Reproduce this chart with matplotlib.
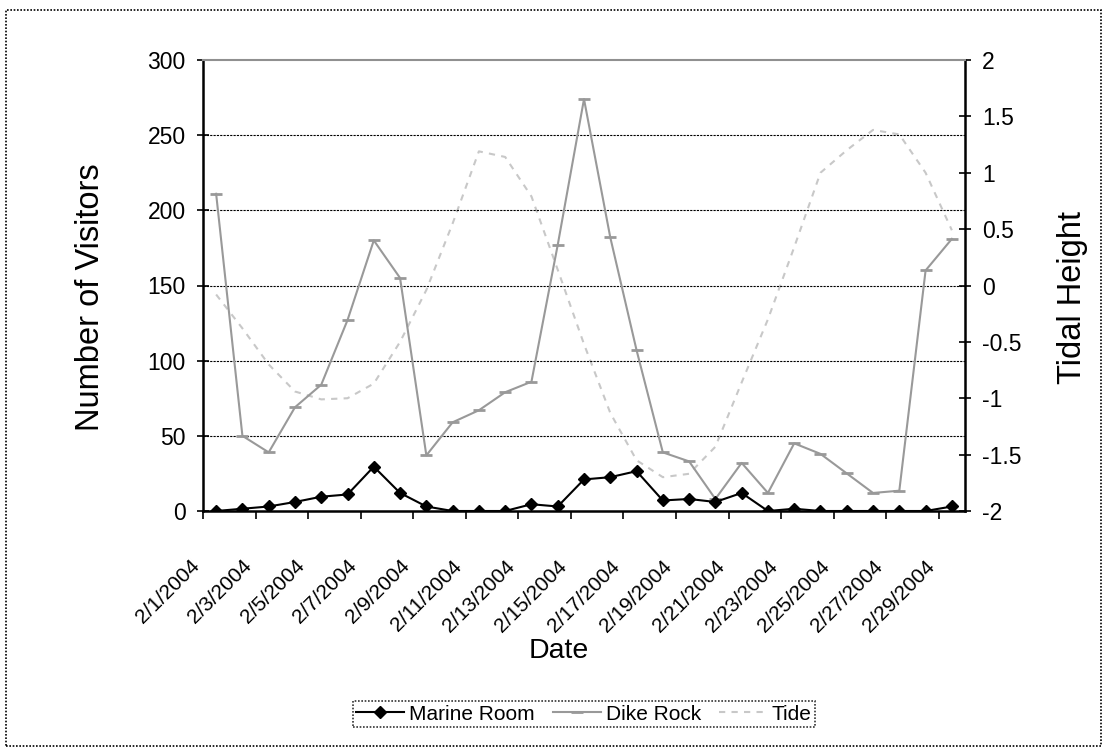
import matplotlib
matplotlib.use('Agg')
import matplotlib.pyplot as plt
import matplotlib.transforms as mtransforms
from matplotlib.patches import Rectangle
from matplotlib.lines import Line2D

dates = ["2/1/2004", "2/2/2004", "2/3/2004", "2/4/2004", "2/5/2004", "2/6/2004",
         "2/7/2004", "2/8/2004", "2/9/2004", "2/10/2004", "2/11/2004", "2/12/2004",
         "2/13/2004", "2/14/2004", "2/15/2004", "2/16/2004", "2/17/2004", "2/18/2004",
         "2/19/2004", "2/20/2004", "2/21/2004", "2/22/2004", "2/23/2004", "2/24/2004",
         "2/25/2004", "2/26/2004", "2/27/2004", "2/28/2004", "2/29/2004"]
marine_room = [0, 1.5, 3, 6, 9.5, 11, 29.5, 12, 3, 0, 0, 0, 4.5, 3, 21, 22.5, 26.5,
               7, 8, 6, 12, 0, 1.5, 0, 0, 0, 0, 0, 3]
dike_rock = [211, 50, 39, 69, 84, 127, 180, 155, 37, 59, 67, 79, 86, 177, 274, 182,
             107, 39, 33, 8, 32, 12, 45, 38, 25, 12, 13.5, 160, 181]
tide = [-0.08, -0.38, -0.7, -0.94, -1.01, -1.0, -0.87, -0.5, -0.04, 0.55, 1.19, 1.14,
        0.79, 0.14, -0.52, -1.13, -1.55, -1.70, -1.67, -1.43, -0.86, -0.3, 0.34, 1.0,
        1.2, 1.38, 1.34, 1.0, 0.49]
left_ticks = [0, 50, 100, 150, 200, 250, 300]
right_ticks = [-2, -1.5, -1, -0.5, 0, 0.5, 1, 1.5, 2]
right_labels = ["-2", "-1.5", "-1", "-0.5", "0", "0.5", "1", "1.5", "2"]

plt.rcParams['font.family'] = ['Liberation Sans', 'DejaVu Sans']

W, H = 1107, 753
fig = plt.figure(figsize=(W / 100, H / 100), dpi=100)
ax = fig.add_axes([203 / W, 1 - 511 / H, (965 - 203) / W, (511 - 60) / H])
ax2 = ax.twinx()

x = list(range(len(dates)))
dike_col = '#999999'
tide_col = '#c8c8c8'

ax2.plot(x, tide, color=tide_col, lw=1.5, ls=(0, (3, 3)), zorder=2)
ax.plot(x, dike_rock, color=dike_col, lw=1.5, marker='_', ms=9, mew=2, zorder=3)
ax.plot(x, marine_room, color='black', lw=1.5, marker='D', ms=6.5, zorder=4)

ax.set_zorder(ax2.get_zorder() + 1)
ax.patch.set_visible(False)

ax.set_xlim(-0.5, len(dates) - 0.5)
ax.set_ylim(0, 300)
ax2.set_ylim(-2, 2)

for v in left_ticks[1:-1]:
    ax.axhline(v, color='black', lw=0.8, ls=(0, (2, 1)), zorder=1)

for s in ['left', 'bottom']:
    ax.spines[s].set_linewidth(1.8)
ax.spines['right'].set_visible(False)
ax.spines['top'].set_color('#909090')
ax.spines['top'].set_linewidth(1.5)
for s in ['left', 'top', 'bottom']:
    ax2.spines[s].set_visible(False)
ax2.spines['right'].set_linewidth(1.8)

ax.set_yticks(left_ticks)
ax.set_yticklabels([str(v) for v in left_ticks])
ax.tick_params(axis='y', direction='inout', length=9, width=1.2, labelsize=16.5, pad=8)
ax2.set_yticks(right_ticks)
ax2.set_yticklabels(right_labels)
ax2.tick_params(axis='y', direction='inout', length=9, width=1.2, labelsize=16.5, pad=8)

ax.set_xticks([i - 0.5 for i in range(0, len(dates), 2)])
ax.set_xticklabels([])
ax.tick_params(axis='x', direction='out', length=6, width=1.2)

offset = mtransforms.ScaledTranslation(-16 / 100, -56 / 100, fig.dpi_scale_trans)
trans = mtransforms.blended_transform_factory(ax.transData, ax.transAxes) + offset
for i in range(0, len(dates), 2):
    ax.text(i, 0, dates[i], transform=trans, rotation=45, rotation_mode='anchor',
            ha='right', va='baseline', fontsize=15, clip_on=False)

fig.text(91 / W, 1 - 297 / H, "Number of Visitors", rotation=90, ha='center',
         va='center', fontsize=23.5)
fig.text(1073 / W, 1 - 297 / H, "Tidal Height", rotation=90, ha='center',
         va='center', fontsize=23.5)
fig.text(559 / W, 1 - 651 / H, "Date", ha='center', va='center', fontsize=20.5)

handles = [Line2D([], [], color='black', lw=1.5, marker='D', ms=6),
           Line2D([], [], color=dike_col, lw=1.5, marker='_', ms=9, mew=2),
           Line2D([], [], color=tide_col, lw=1.5, ls=(0, (3, 3)))]
leg = fig.legend(handles, ["Marine Room", "Dike Rock", "Tide"], ncol=3,
                 loc='center', bbox_to_anchor=(584 / W, 1 - 714 / H),
                 fontsize=15, frameon=True, fancybox=False, borderpad=0.15,
                 handlelength=2.3, handletextpad=0.25, columnspacing=0.85,
                 borderaxespad=0)
leg.get_frame().set_edgecolor('black')
leg.get_frame().set_linestyle((0, (1, 1)))
leg.get_frame().set_linewidth(1.2)

fig.patches.append(Rectangle((6 / W, 7 / H), (1101 - 6) / W, (743 - 7) / H,
                             transform=fig.transFigure, fill=False, ec='black',
                             lw=1.2, ls=(0, (1, 1))))

fig.savefig('out.png', dpi=100)
